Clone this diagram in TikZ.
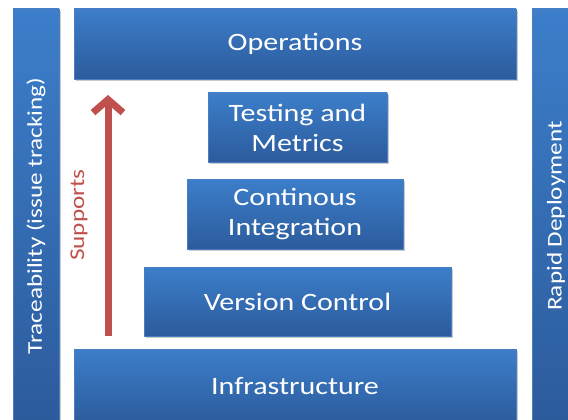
\documentclass[tikz,border=0pt]{standalone}
\usepackage{fontspec}
\setmainfont{Carlito}[FakeStretch=1.2]
\usetikzlibrary{shadows,arrows.meta}
\definecolor{btop}{RGB}{60,126,202}
\definecolor{bbot}{RGB}{44,91,156}
\definecolor{bedge}{RGB}{74,126,192}
\definecolor{supred}{RGB}{192,80,77}
\tikzset{
  blockbox/.style={rectangle, draw=bedge, line width=0.8pt, top color=btop, bottom color=bbot,
    text=white, font=\fontsize{25}{30}\selectfont, align=center, inner sep=0pt,
    drop shadow={shadow xshift=1.5pt, shadow yshift=-2pt, opacity=0.35, fill=black!60}},
  sidebar/.style={blockbox, rotate=90, font=\fontsize{21}{24}\selectfont},
  supportarrow/.style={draw=supred, line width=7pt, -{Straight Barb[length=13pt,width=30pt,line width=7pt]}},
  suplabel/.style={text=supred, rotate=90, font=\fontsize{21}{24}\selectfont, inner sep=0pt}
}
\begin{document}
\begin{tikzpicture}[x=1pt,y=-1pt]
\useasboundingbox (0,0) rectangle (568,420);
\node[sidebar, minimum width=414pt, minimum height=46pt] (trace) at (36,216) {Traceability (issue tracking)};
\node[sidebar, minimum width=414pt, minimum height=48pt] (rapid) at (556,216) {Rapid Deployment};
\node[blockbox, minimum width=442pt, minimum height=70pt] (ops) at (295,44) {Operations};
\node[blockbox, minimum width=179pt, minimum height=69pt] (test) at (297.5,127.5) {Testing and\\Metrics};
\node[blockbox, minimum width=216pt, minimum height=70pt] (ci) at (295,214) {Continous\\Integration};
\node[blockbox, minimum width=307pt, minimum height=69pt] (vc) at (297.5,301.5) {Version Control};
\node[blockbox, minimum width=442pt, minimum height=74pt] (infra) at (295,386) {Infrastructure};
\coordinate (sbot) at (108,336);
\coordinate (stop) at (108,95);
\draw[supportarrow] (sbot) -- (stop);
\node[suplabel] (sup) at (79,215) {Supports};
\end{tikzpicture}
\end{document}
